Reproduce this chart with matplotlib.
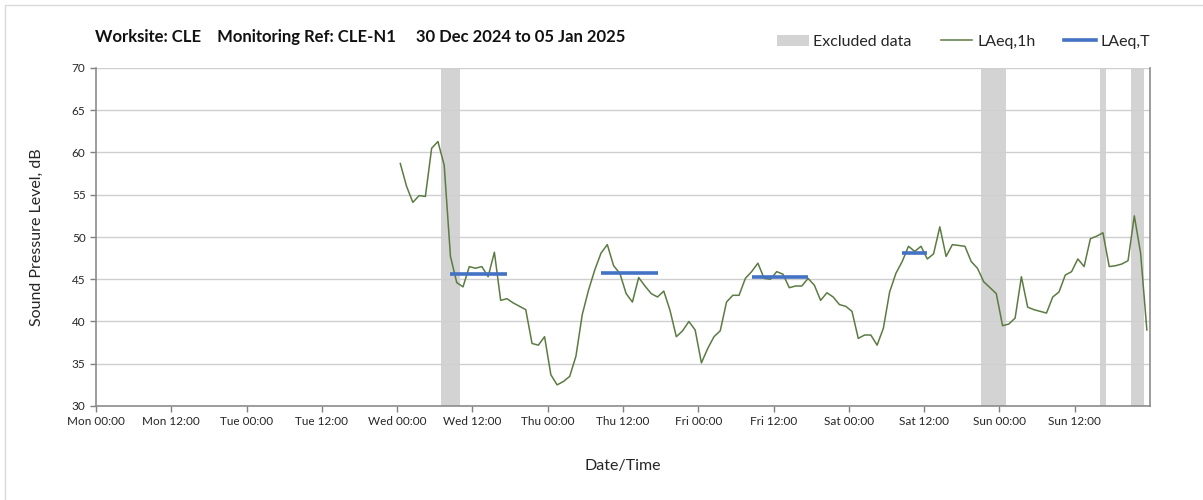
import numpy as np
import matplotlib.pyplot as plt
from matplotlib.patches import Patch, Rectangle
from matplotlib.lines import Line2D

# hourly LAeq,1h, first value is Wed 00:00-01:00 (plotted at mid hour)
laeq_1h = [58.7, 56.0, 54.1, 54.9, 54.8, 60.5, 61.3, 58.5, 47.7, 44.6,
           44.1, 46.5, 46.3, 46.5, 45.3, 48.2, 42.5, 42.7, 42.2, 41.8,
           41.4, 37.4, 37.2, 38.2, 33.7, 32.5, 32.9, 33.5, 35.9, 40.8,
           43.7, 46.1, 48.1, 49.1, 46.6, 45.7, 43.3, 42.3, 45.2, 44.2,
           43.3, 42.9, 43.6, 41.3, 38.2, 38.9, 40.0, 39.0, 35.1, 36.8,
           38.2, 38.9, 42.3, 43.1, 43.1, 45.1, 45.9, 46.9, 45.1, 45.0,
           45.9, 45.6, 44.0, 44.2, 44.2, 45.1, 44.3, 42.5, 43.4, 42.9,
           42.0, 41.8, 41.2, 38.0, 38.4, 38.4, 37.2, 39.2, 43.5, 45.7,
           47.1, 48.9, 48.3, 48.9, 47.4, 48.0, 51.2, 47.7, 49.1, 49.0,
           48.9, 47.1, 46.3, 44.7, 44.0, 43.3, 39.5, 39.7, 40.4, 45.3,
           41.7, 41.4, 41.2, 41.0, 42.9, 43.5, 45.5, 45.9, 47.4, 46.5,
           49.8, 50.1, 50.5, 46.5, 46.6, 46.8, 47.2, 52.5, 48.1, 39.0]
start_hour = 48.5  # hours after Mon 00:00

# LAeq,T periods (start hour, end hour, level)
laeqT_start = [56.5, 80.5, 104.5, 128.5]
laeqT_end = [65.5, 89.5, 113.5, 132.5]
laeqT_level = [45.65, 45.7, 45.3, 48.1]

# excluded periods (start hour, end hour)
excl_start = [55, 141, 160, 165]
excl_end = [58, 145, 161, 167]

tick_labels = ['Mon 00:00', 'Mon 12:00', 'Tue 00:00', 'Tue 12:00', 'Wed 00:00',
               'Wed 12:00', 'Thu 00:00', 'Thu 12:00', 'Fri 00:00', 'Fri 12:00',
               'Sat 00:00', 'Sat 12:00', 'Sun 00:00', 'Sun 12:00']

plt.rcParams['font.family'] = ['Lato', 'DejaVu Sans']

fig = plt.figure(figsize=(12.03, 5), dpi=100)
ax = fig.add_axes([96/1203, 1-406/500, (1150-96)/1203, (406-68)/500])

hours = start_hour + np.arange(len(laeq_1h))

for s, e in zip(excl_start, excl_end):
    ax.axvspan(s, e, color='#d3d3d3', lw=0, zorder=1)

ax.plot(hours, laeq_1h, color='#5b7b43', lw=1.1, zorder=3)
for s, e, v in zip(laeqT_start, laeqT_end, laeqT_level):
    ax.plot([s, e], [v, v], color='#4472c4', lw=2.6, zorder=4, solid_capstyle='butt')

ax.set_xlim(0, 168)
ax.set_ylim(30, 70)
ax.set_xticks(np.arange(0, 168, 12))
ax.set_xticklabels(tick_labels)
ax.set_xticks(np.arange(0, 169, 24), minor=True)
ax.set_yticks(np.arange(30, 71, 5))
ax.tick_params(axis='both', labelsize=8.5, colors='#808080', labelcolor='#262626',
               length=4, width=1)
ax.tick_params(axis='x', which='minor', length=0)
ax.grid(False)
ax.grid(True, which='minor', axis='x', color='#dcdcdc', lw=1, zorder=0)
ax.grid(True, which='major', axis='y', color='#cfcfcf', lw=1, zorder=0)

ax.spines['top'].set_visible(False)
for side in ['left', 'bottom', 'right']:
    ax.spines[side].set_color('#8c8c8c')
    ax.spines[side].set_linewidth(1.2)

ax.set_ylabel('Sound Pressure Level, dB', fontsize=11.5, color='#262626', labelpad=20)
ax.set_xlabel('Date/Time', fontsize=11.5, color='#262626', labelpad=23)

fig.text(95/1203, 1-37/500, 'Worksite: CLE    Monitoring Ref: CLE-N1     30 Dec 2024 to 05 Jan 2025',
         fontsize=12, fontweight='bold', va='center', ha='left', color='#111111')

handles = [Patch(facecolor='#d3d3d3', edgecolor='none'),
           Line2D([], [], color='#5b7b43', lw=1.1),
           Line2D([], [], color='#4472c4', lw=2.6)]
fig.legend(handles, ['Excluded data', 'LAeq,1h', 'LAeq,T'], ncol=3, frameon=False,
           loc='center right', bbox_to_anchor=(1165/1203, 1-42/500), fontsize=11.5,
           handlelength=2.0, columnspacing=1.8, handletextpad=0.3,
           labelcolor='#262626')

# outer chart border
fig.patches.append(Rectangle((5/1203, -0.1), 1.1, 1-5/500+0.1, transform=fig.transFigure,
                             fill=False, edgecolor='#d9d9d9', lw=1))

fig.savefig('out.png', dpi=100)
